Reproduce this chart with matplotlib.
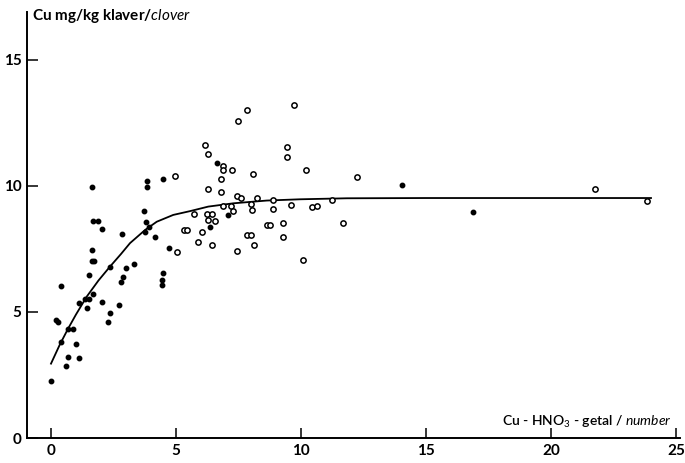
import matplotlib
matplotlib.use("Agg")
import matplotlib.pyplot as plt

plt.rcParams['font.family'] = ['Lato', 'DejaVu Sans']
plt.rcParams['mathtext.fontset'] = 'custom'
plt.rcParams['mathtext.rm'] = 'Lato'
plt.rcParams['mathtext.it'] = 'Lato:italic'
plt.rcParams['mathtext.bf'] = 'Lato:bold'

# filled dots
filled_x = [0.0, 0.59, 0.69, 1.12, 0.99, 0.40, 0.67, 0.89, 0.19, 0.27, 0.39, 1.13, 1.36, 1.52,
            1.44, 1.67, 1.51, 1.63, 1.71, 1.63, 2.36, 2.05, 2.37, 2.28, 2.72, 2.80, 2.89, 3.01,
            3.33, 2.83, 2.05, 1.67, 1.87, 1.63, 3.73, 3.80, 3.76, 3.93, 4.16, 3.83, 3.83, 4.47,
            4.49, 4.44, 4.44, 4.73, 6.36, 7.07, 6.65, 14.03, 16.87]
filled_y = [2.25, 2.87, 3.20, 3.16, 3.74, 3.80, 4.31, 4.31, 4.70, 4.60, 6.02, 5.37, 5.53, 5.53,
            5.16, 5.73, 6.46, 7.02, 7.02, 7.46, 6.79, 5.38, 4.97, 4.60, 5.29, 6.17, 6.38, 6.75,
            6.90, 8.10, 8.30, 8.62, 8.62, 9.95, 8.99, 8.55, 8.19, 8.39, 7.99, 10.20, 9.96, 10.28,
            6.53, 6.26, 6.06, 7.55, 8.38, 8.83, 10.89, 10.05, 8.95]

# open circles
open_x = [4.96, 5.03, 5.32, 5.45, 5.73, 5.87, 6.05, 6.23, 6.45, 6.27, 6.56, 6.45, 6.29, 6.79,
          6.79, 6.89, 7.83, 7.49, 9.73, 6.16, 6.29, 9.43, 9.43, 6.87, 6.87, 7.25, 8.09, 10.20,
          12.23, 7.43, 7.59, 8.23, 8.89, 11.23, 7.20, 7.27, 8.00, 8.04, 8.89, 9.59, 10.45,
          10.63, 8.63, 8.76, 9.29, 7.83, 8.00, 9.29, 8.12, 7.45, 10.09, 11.67, 21.76, 23.83]
open_y = [10.41, 7.39, 8.26, 8.26, 8.88, 7.77, 8.17, 8.88, 8.88, 8.66, 8.59, 7.66, 9.88, 9.75,
          10.28, 9.19, 13.00, 12.58, 13.22, 11.61, 11.28, 11.56, 11.14, 10.81, 10.65, 10.65,
          10.48, 10.65, 10.36, 9.59, 9.52, 9.52, 9.45, 9.45, 9.19, 8.99, 9.28, 9.05, 9.08, 9.23,
          9.15, 9.19, 8.46, 8.46, 8.52, 8.06, 8.06, 7.99, 7.66, 7.43, 7.06, 8.52, 9.88, 9.39]

# fitted curve
curve_x = [0.0, 0.35, 0.69, 1.0, 1.43, 1.9, 2.36, 2.8, 3.16, 3.76, 4.23, 4.89, 5.56, 6.29,
           7.29, 8.63, 9.96, 11.83, 15.0, 20.0, 24.0]
curve_y = [2.95, 3.70, 4.35, 4.90, 5.61, 6.25, 6.80, 7.30, 7.73, 8.25, 8.58, 8.85, 9.00, 9.18,
           9.31, 9.42, 9.47, 9.51, 9.52, 9.52, 9.52]

x_ticks = [0, 5, 10, 15, 20, 25]
y_ticks = [0, 5, 10, 15]

W, H = 685, 463
fig = plt.figure(figsize=(W / 100, H / 100), dpi=100)
ax = fig.add_axes([27 / W, 1 - 438 / H, (680 - 27) / W, (438 - 12) / H])

ax.plot(curve_x, curve_y, color='black', lw=1.3, zorder=2)
ax.plot(filled_x, filled_y, 'o', color='black', ms=3.2, zorder=3)
ax.plot(open_x, open_y, 'o', mfc='white', mec='black', ms=3.8, mew=1.1, zorder=3)

ax.set_xlim(-0.96, 25.16)
ax.set_ylim(0, 16.9)
ax.set_xticks(x_ticks)
ax.set_yticks(y_ticks)
ax.tick_params(axis='x', direction='in', length=7, width=1.1, labelsize=11, pad=4)
ax.tick_params(axis='y', direction='in', length=8, width=1.1, labelsize=11, pad=4)
for lab in ax.get_xticklabels() + ax.get_yticklabels():
    lab.set_fontweight('bold')

for s in ['top', 'right']:
    ax.spines[s].set_visible(False)
for s in ['left', 'bottom']:
    ax.spines[s].set_linewidth(1.4)

fig.text(32 / W, 1 - 16 / H, r"Cu mg/kg klaver/$\it{clover}$", fontsize=11,
         fontweight='bold', ha='left', va='center')
fig.text(672 / W, 1 - 422 / H, r"Cu - HNO$_3$ - getal / $\it{number}$", fontsize=10,
         fontweight='semibold', ha='right', va='center')

fig.savefig("out.png", dpi=100)
